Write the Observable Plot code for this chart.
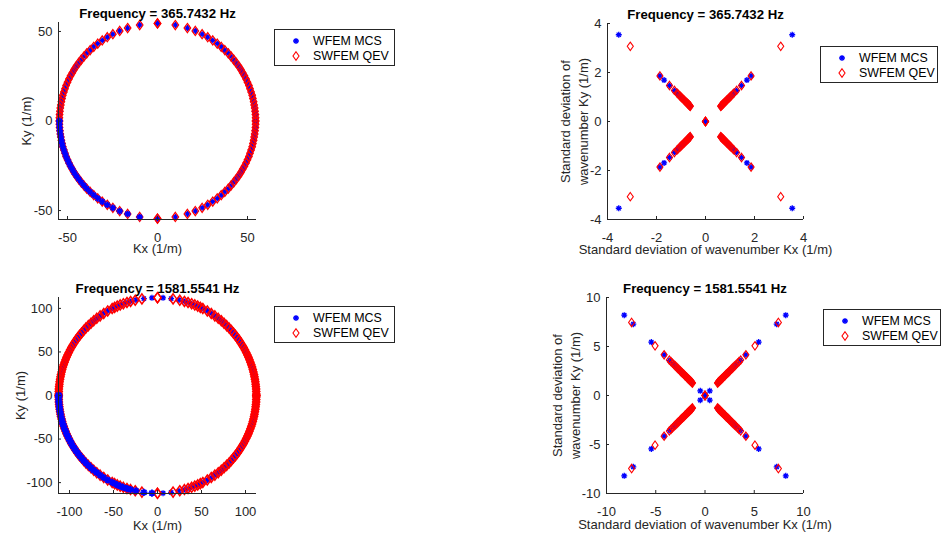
<!DOCTYPE html>
<html><head><meta charset="utf-8">
<script src="https://cdn.jsdelivr.net/npm/d3@7"></script>
<script src="https://cdn.jsdelivr.net/npm/@observablehq/plot@0.6"></script>
<style>
body{margin:0;background:#fff;}
#wrap{position:relative;width:948px;height:540px;overflow:hidden;background:#fff;font-family:"Liberation Sans",Arial,sans-serif;}
.panel{position:absolute;}
.legend{position:absolute;border:1px solid #262626;background:#fff;box-sizing:border-box;font-size:12.4px;color:#000;}
.legend .row{position:absolute;left:0;right:0;height:16px;line-height:16px;white-space:nowrap;}
.legend svg{position:absolute;top:2px;}
.legend span{position:absolute;}
</style></head><body><div id="wrap"></div>
<script>
// ---------------- data ----------------
const seriesNames = ["WFEM MCS", "SWFEM QEV"];
const titles = ["Frequency = 365.7432 Hz", "Frequency = 1581.5541 Hz"];
const labelKx = "Kx (1/m)";
const labelKy = "Ky (1/m)";
const labelSx = "Standard deviation of wavenumber Kx (1/m)";
const labelSy = "Standard deviation of\nwavenumber Ky (1/m)";

const ticksK1 = [-50, 0, 50];
const ticksK2 = [-100, -50, 0, 50, 100];
const ticksS1 = [-4, -2, 0, 2, 4];
const ticksS2 = [-10, -5, 0, 5, 10];

// 365.7432 Hz: wavenumber points of one quadrant (both methods coincide)
const circ1Kx = [0, 9.9, 16.6, 21.0, 24.8, 27.9, 30.7, 33.2, 35.4, 37.4, 39.3, 40.9, 42.4, 43.8, 45.1, 46.3,
  47.3, 48.3, 49.2, 50.0, 50.8, 51.4, 52.0, 52.6, 53.0, 53.4, 53.7, 54.0, 54.2, 54.4, 54.5, 54.5];
const circ1Ky = [54.5, 53.6, 51.9, 50.3, 48.5, 46.8, 45.0, 43.2, 41.4, 39.6, 37.8, 36.0, 34.2, 32.4, 30.6, 28.8,
  27.0, 25.2, 23.4, 21.6, 19.8, 18.0, 16.2, 14.4, 12.6, 10.8, 9.0, 7.2, 5.4, 3.6, 1.8, 0];

// 1581.5541 Hz: one quadrant, SWFEM QEV
const circ2QevKx = [0, 17.7, 25.3, 30.6, 34.7, 38.8, 42.4, 45.7, 48.7, 51.5, 56.6, 61.1, 65.2, 69.0, 72.5,
  75.6, 78.6, 81.4, 83.9, 86.3, 88.6, 90.7, 92.7, 94.5, 96.3, 97.9, 99.4, 100.8, 102.2, 103.4, 104.5, 105.6,
  106.6, 107.5, 108.3, 109.0, 109.7, 110.2, 110.7, 111.2, 111.5, 111.8, 112.1, 112.2, 112.3, 112.3];
const circ2QevKy = [112.3, 110.9, 109.4, 108.0, 106.8, 105.4, 104.0, 102.6, 101.2, 99.8, 97.0, 94.2, 91.4, 88.6, 85.8,
  83.0, 80.2, 77.4, 74.6, 71.8, 69.0, 66.2, 63.4, 60.6, 57.8, 55.0, 52.2, 49.4, 46.6, 43.8, 41.0, 38.2,
  35.4, 32.6, 29.8, 27.0, 24.2, 21.4, 18.6, 15.8, 13.0, 10.2, 7.4, 4.6, 1.8, 0];
// 1581.5541 Hz: one quadrant, WFEM MCS
const circ2McsKx = [6.3, 15.5, 24.5, 30.6, 34.7, 38.8, 42.4, 45.7, 48.7, 51.5, 56.6, 61.1, 65.2, 69.0, 72.5,
  75.6, 78.6, 81.4, 83.9, 86.3, 88.6, 90.7, 92.7, 94.5, 96.3, 97.9, 99.4, 100.8, 102.2, 103.4, 104.5, 105.6,
  106.6, 107.5, 108.3, 109.0, 109.7, 110.2, 110.7, 111.2, 111.5, 111.8, 112.1, 112.2, 112.3, 112.3];
const circ2McsKy = [112.1, 111.2, 109.6, 108.0, 106.8, 105.4, 104.0, 102.6, 101.2, 99.8, 97.0, 94.2, 91.4, 88.6, 85.8,
  83.0, 80.2, 77.4, 74.6, 71.8, 69.0, 66.2, 63.4, 60.6, 57.8, 55.0, 52.2, 49.4, 46.6, 43.8, 41.0, 38.2,
  35.4, 32.6, 29.8, 27.0, 24.2, 21.4, 18.6, 15.8, 13.0, 10.2, 7.4, 4.6, 1.8, 0];

// standard deviations (|std Kx| = |std Ky| along the diagonals), one quadrant
const std1Mcs = [3.54, 1.86, 1.69, 1.47, 1.26, 1.13, 1.07, 1.02, 0.97, 0.92, 0.88, 0.84, 0.80, 0.76, 0.72, 0.69, 0.66, 0.63, 0];
const std1Qev = [3.07, 1.86, 1.47, 1.27, 1.16, 1.11, 1.06, 1.02, 0.98, 0.94, 0.90, 0.87, 0.84, 0.81, 0.78, 0.75,
  0.73, 0.71, 0.69, 0.67, 0.65, 0.63, 0.62, 0];
const std2Mcs = [8.2, 7.28, 5.45, 4.15, 3.58, 3.22, 2.95, 2.75, 2.55, 2.35, 2.15, 1.95, 1.75, 1.58, 1.42, 1.3, 0.48, 0];
const std2Qev = [7.45, 5.07, 4.15, 3.62, 3.45, 3.3, 3.17, 3.05, 2.94, 2.83, 2.73, 2.63, 2.54, 2.45, 2.36, 2.28,
  2.2, 2.12, 2.04, 1.97, 1.9, 1.83, 1.76, 1.7, 1.64, 1.58, 1.52, 1.46, 1.41, 1.36, 1.31, 1.27, 0];

// ---------------- helpers ----------------
const C_MCS = "#0000ff", C_QEV = "#ff0000", AXIS = "#262626";
const FONT = "Liberation Sans, Arial, Helvetica, sans-serif";
const quads = [[1, 1], [-1, 1], [-1, -1], [1, -1]];
const mirror = (xs, ys) => quads.flatMap(([sx, sy]) => xs.map((x, i) => ({x: sx * x, y: sy * ys[i]})));
const mirrorDiag = (vs) => mirror(vs, vs);

const asterisk = {draw(ctx, size) {
  const r = Math.sqrt(size / Math.PI), d = r * Math.SQRT1_2;
  ctx.moveTo(-r, 0); ctx.lineTo(r, 0); ctx.moveTo(0, -r); ctx.lineTo(0, r);
  ctx.moveTo(-d, -d); ctx.lineTo(d, d); ctx.moveTo(-d, d); ctx.lineTo(d, -d);
}};
const diamond = {draw(ctx, size) {
  const r = Math.sqrt(size / Math.PI), w = r * 0.72;
  ctx.moveTo(0, -r); ctx.lineTo(w, 0); ctx.lineTo(0, r); ctx.lineTo(-w, 0); ctx.closePath();
}};
const R_STAR = 3, R_DIAM = 4.4;
const mcsDots = (data, sw = 1.3, r = R_STAR) => Plot.dot(data, {x: "x", y: "y", symbol: asterisk, r, stroke: C_MCS, fill: "none", strokeWidth: sw});
const qevDots = (data, r = R_DIAM, sw = 1.1) => Plot.dot(data, {x: "x", y: "y", symbol: diamond, r, stroke: C_QEV, fill: "none", strokeWidth: sw});

const wrap = document.getElementById("wrap");

function panel(o) {
  const fw = o.width - o.ml - o.mr, fh = o.height - o.mt - o.mb;
  const fmt = d => String(d);
  const svg = Plot.plot({
    width: o.width, height: o.height,
    marginLeft: o.ml, marginRight: o.mr, marginTop: o.mt, marginBottom: o.mb,
    x: {domain: o.domain}, y: {domain: o.domain},
    style: {fontFamily: FONT, fontSize: "13px", color: AXIS, background: "transparent", overflow: "visible"},
    marks: [
      ...o.layers,
      Plot.ruleX([o.domain[0]], {stroke: AXIS}),
      Plot.ruleY([o.domain[0]], {stroke: AXIS}),
      Plot.ruleX(o.ticks, {x: d => d, insetTop: fh - 3, stroke: AXIS}),
      Plot.ruleY(o.ticks, {y: d => d, insetRight: fw - 3, stroke: AXIS}),
      Plot.axisX({ticks: o.ticks, tickSize: 0, tickPadding: 13, tickFormat: fmt, label: null, fontSize: 13}),
      Plot.axisY({ticks: o.ticks, tickSize: 0, tickPadding: 6, tickFormat: fmt, label: null, fontSize: 13}),
      Plot.text([o.title], {text: d => d, frameAnchor: "top", lineAnchor: "middle", textAnchor: "middle", dy: -8.7, fontWeight: "bold", fontSize: 13.2, fill: "#000"}),
      Plot.text([o.xlabel], {text: d => d, frameAnchor: "bottom", lineAnchor: "middle", textAnchor: "middle", dy: o.xdy, fontSize: 13, fill: AXIS}),
      Plot.text([o.ylabel], {text: d => d, frameAnchor: "left", lineAnchor: "middle", textAnchor: "middle", dx: o.ydx, rotate: -90, fontSize: 13, lineHeight: 1.38, fill: AXIS})
    ]
  });
  svg.classList.add("panel");
  svg.style.left = o.left + "px";
  svg.style.top = o.top + "px";
  wrap.appendChild(svg);
}

function legend(left, top, width) {
  const div = document.createElement("div");
  div.className = "legend";
  Object.assign(div.style, {left: left + "px", top: top + "px", width: width + "px", height: "37px"});
  const syms = [[asterisk, R_STAR, C_MCS, 1.3], [diamond, 4.2, C_QEV, 1.1]];
  const rowY = [3, 18];
  seriesNames.forEach((name, i) => {
    const row = document.createElement("div");
    row.className = "row";
    row.style.top = rowY[i] + "px";
    const [sym, r, col, sw] = syms[i];
    const path = d3.symbol().type(sym).size(Math.PI * r * r)();
    row.innerHTML = `<svg width="12" height="12" style="left:15px" viewBox="-6 -6 12 12"><path d="${path}" fill="none" stroke="${col}" stroke-width="${sw}"/></svg><span style="left:38px">${name}</span>`;
    div.appendChild(row);
  });
  wrap.appendChild(div);
}

// ---------------- panels ----------------
const circ1 = mirror(circ1Kx, circ1Ky);
panel({left: 0, top: 0, width: 270, height: 265, ml: 58, mr: 14, mt: 22, mb: 46,
  domain: [-55, 55], ticks: ticksK1, title: titles[0], xlabel: labelKx, ylabel: labelKy, xdy: 29.5, ydx: -33,
  layers: [mcsDots(circ1), qevDots(circ1, 4.6, 1.2), mcsDots(circ1.filter(d => d.x < 0 && d.y <= 0), 1.5, 3.3)]});

const circ2Mcs = mirror(circ2McsKx, circ2McsKy);
const circ2Qev = mirror(circ2QevKx, circ2QevKy);
panel({left: 0, top: 270, width: 270, height: 270, ml: 58, mr: 14, mt: 27, mb: 47,
  domain: [-112.5, 112.5], ticks: ticksK2, title: titles[1], xlabel: labelKx, ylabel: labelKy, xdy: 32, ydx: -39,
  layers: [mcsDots(circ2Mcs), qevDots(circ2Qev, 5, 1.5), mcsDots(circ2Mcs.filter(d => d.x < 0 && d.y <= 0), 1.8, 3.6)]});

panel({left: 540, top: 0, width: 280, height: 265, ml: 67, mr: 17, mt: 23, mb: 46,
  domain: [-4, 4], ticks: ticksS1, title: titles[0], xlabel: labelSx, ylabel: labelSy, xdy: 30.5, ydx: -34,
  layers: [mcsDots(mirrorDiag(std1Mcs)), qevDots(mirrorDiag(std1Qev), 4.2, 1.1)]});

panel({left: 540, top: 270, width: 280, height: 270, ml: 66, mr: 17, mt: 27, mb: 47,
  domain: [-10, 10], ticks: ticksS2, title: titles[1], xlabel: labelSx, ylabel: labelSy, xdy: 31.5, ydx: -41,
  layers: [mcsDots(mirrorDiag(std2Mcs)), qevDots(mirrorDiag(std2Qev), 4.2, 1.1)]});

legend(274, 29, 121);
legend(274, 306, 121);
legend(820, 46, 118);
legend(823, 309, 118);
</script></body></html>
